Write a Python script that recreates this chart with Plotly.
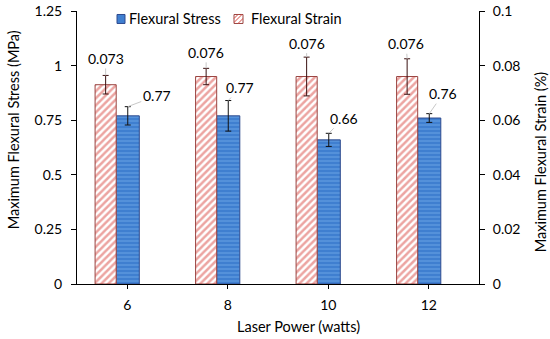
import plotly.graph_objects as go

# ---------------- data ----------------
categories = ["6", "8", "10", "12"]
stress = [0.77, 0.77, 0.66, 0.76]          # MPa (left axis)
stress_err = [0.042, 0.07, 0.03, 0.02]
strain = [0.073, 0.076, 0.076, 0.076]      # % (right axis)
strain_err = [0.0034, 0.003, 0.0071, 0.0065]

FONT = "Lato"
W, H = 550, 339
L, R, T, B = 77, 71, 10.5, 55
pw, ph = W - L - R, H - T - B


def px(x):
    return (x - L) / pw


def py(y):
    return (H - B - y) / ph


xs = list(range(len(categories)))

fig = go.Figure()

# strain bars (secondary axis)
fig.add_trace(go.Bar(
    x=xs, y=strain, yaxis="y2", name="Flexural Strain",
    offset=-0.32, width=0.21,
    marker=dict(color="white", line=dict(color="#9a4440", width=1),
                pattern=dict(shape="/", fgcolor="#d94a44", bgcolor="white",
                             size=5, solidity=0.5)),
    error_y=dict(type="data", array=strain_err, visible=True,
                 color="#3a1010", thickness=1, width=3),
    showlegend=False,
))

# stress bars (primary axis)
fig.add_trace(go.Bar(
    x=xs, y=stress, yaxis="y", name="Flexural Stress",
    offset=-0.11, width=0.23,
    marker=dict(color="#3f7fd0", line=dict(color="#2e4a8e", width=1),
                pattern=dict(shape="-", fgcolor="#74aeea", bgcolor="#3f7fd0",
                             size=4, solidity=0.4)),
    error_y=dict(type="data", array=stress_err, visible=True,
                 color="#101010", thickness=1, width=3),
    showlegend=False,
))

annotations = []
# data labels with leader lines
strain_lab_off = [(0, -17), (0, -16), (0, -14), (-1, -15)]
stress_lab_off = [(29, -11), (12, -13), (15, -15), (14, -20)]
for i in xs:
    annotations.append(dict(
        x=i - 0.215, y=strain[i] + strain_err[i], xref="x", yref="y2",
        text=f"{strain[i]:.3f}", showarrow=True, arrowhead=0, arrowwidth=1,
        arrowcolor="#c8c8c8", standoff=0,
        ax=strain_lab_off[i][0], ay=strain_lab_off[i][1],
        font=dict(family=FONT, size=14, color="black")))
    annotations.append(dict(
        x=i + 0.005, y=stress[i] + stress_err[i], xref="x", yref="y",
        text=f"{stress[i]:.2f}", showarrow=True, arrowhead=0, arrowwidth=1,
        arrowcolor="#c8c8c8", standoff=0,
        ax=stress_lab_off[i][0], ay=stress_lab_off[i][1],
        font=dict(family=FONT, size=14, color="black")))

# axis titles
annotations.append(dict(x=px(13), y=py(130), xref="paper", yref="paper",
                        xanchor="center", yanchor="middle",
                        text="Maximum Flexural Stress (MPa)", textangle=-90,
                        showarrow=False, font=dict(family=FONT, size=14.5, color="black")))
annotations.append(dict(x=px(540), y=py(162), xref="paper", yref="paper",
                        xanchor="center", yanchor="middle",
                        text="Maximum Flexural Strain (%)", textangle=-90,
                        showarrow=False, font=dict(family=FONT, size=14.5, color="black")))
annotations.append(dict(x=px(298), y=py(327), xref="paper", yref="paper",
                        xanchor="center", yanchor="middle",
                        text="Laser Power (watts)",
                        showarrow=False, font=dict(family=FONT, size=14.5, color="black")))

# legend (manual)
annotations.append(dict(x=px(127), y=py(18.5), xref="paper", yref="paper",
                        xanchor="left", yanchor="middle", text="Flexural Stress",
                        showarrow=False, font=dict(family=FONT, size=14.5, color="black")))
annotations.append(dict(x=px(249), y=py(18.5), xref="paper", yref="paper",
                        xanchor="left", yanchor="middle", text="Flexural Strain",
                        showarrow=False, font=dict(family=FONT, size=14.5, color="black")))

shapes = [
    dict(type="rect", xref="paper", yref="paper",
         x0=px(117), x1=px(125), y0=py(23), y1=py(14),
         fillcolor="#3f7fd0", line=dict(color="#2e4a8e", width=1)),
    dict(type="rect", xref="paper", yref="paper",
         x0=px(234), x1=px(243), y0=py(23), y1=py(14),
         fillcolor="white", line=dict(color="#9a4440", width=1)),
]
for a, b in [((234, 18), (238, 14)), ((234, 22), (242, 14)), ((238, 23), (243, 18))]:
    shapes.append(dict(type="line", xref="paper", yref="paper",
                       x0=px(a[0]), y0=py(a[1]), x1=px(b[0]), y1=py(b[1]),
                       line=dict(color="#d94a44", width=1)))

fig.update_layout(
    width=W, height=H,
    margin=dict(l=L, r=R, t=T, b=B, pad=0),
    paper_bgcolor="white", plot_bgcolor="white",
    barmode="overlay",
    showlegend=False,
    font=dict(family=FONT, size=14, color="black"),
    xaxis=dict(range=[-0.5, len(categories) - 0.5], tickvals=xs, ticktext=categories,
               showline=True, linecolor="black", linewidth=1,
               ticks="outside", ticklen=4, tickcolor="black",
               showgrid=False, zeroline=False, ticklabelstandoff=4, automargin=False,
               tickfont=dict(family=FONT, size=14, color="black")),
    yaxis=dict(range=[0, 1.25], dtick=0.25, tick0=0,
               showline=True, linecolor="black", linewidth=1,
               ticks="outside", ticklen=5, tickcolor="black",
               showgrid=False, zeroline=False, ticklabelstandoff=6, automargin=False,
               tickfont=dict(family=FONT, size=14, color="black")),
    yaxis2=dict(range=[0, 0.1], dtick=0.02, tick0=0, overlaying="y", side="right",
                showline=True, linecolor="black", linewidth=1,
                ticks="outside", ticklen=5, tickcolor="black",
                showgrid=False, zeroline=False, ticklabelstandoff=5, automargin=False,
                tickfont=dict(family=FONT, size=14, color="black")),
    annotations=annotations,
    shapes=shapes,
)

fig.write_html("out.html", config={"displayModeBar": False},
               post_script="document.body.style.margin='0';")
